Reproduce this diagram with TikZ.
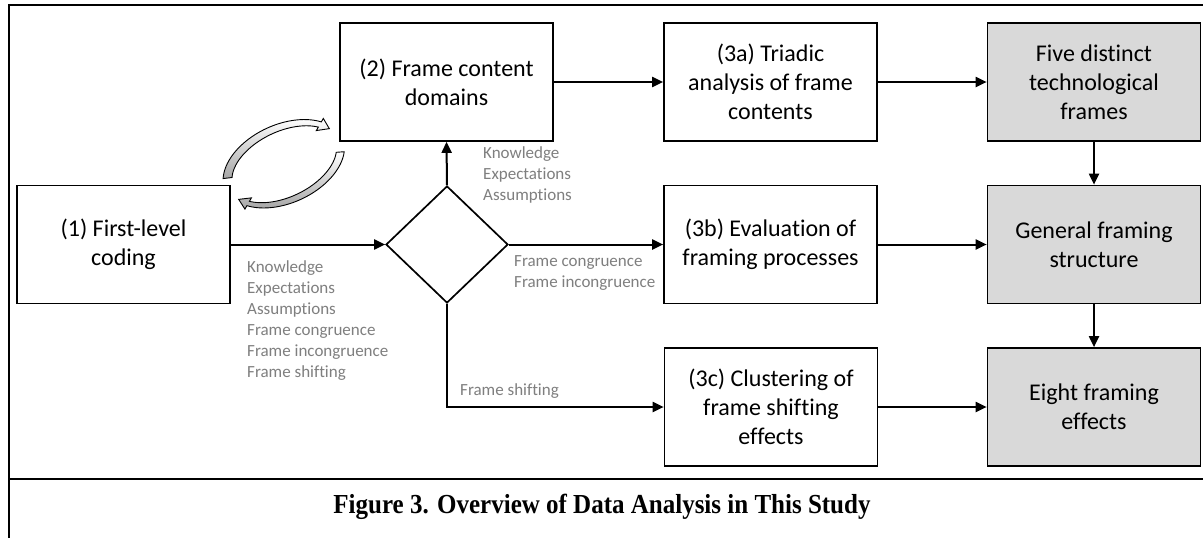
\documentclass[tikz,border=0pt]{standalone}
\usepackage{fontspec}
\setmainfont[Ligatures={NoCommon,NoRequired,NoContextual}]{Carlito}
\newfontfamily\capfont{Liberation Serif}
\usetikzlibrary{shapes.geometric,arrows.meta}
\definecolor{boxgray}{HTML}{D9D9D9}
\definecolor{labelgray}{HTML}{7F7F7F}
\begin{document}
\begin{tikzpicture}[x=1pt,y=-1pt,
  box/.style={draw, line width=1.7pt, minimum width=213pt, minimum height=118pt, inner sep=0pt, align=center, font=\fontsize{24}{29}\selectfont},
  res/.style={box, fill=boxgray},
  lbl/.style={anchor=west, inner sep=0pt, align=left, text=labelgray, font=\fontsize{17}{21}\selectfont},
  conn/.style={line width=2pt, -{Triangle[length=11pt,width=10pt]}},
  outerline/.style={line width=2.7pt},
  arcarrow/.style={draw=black, line width=0.9pt, top color=white, bottom color=gray!70},
  declare function={
    ex(\t,\d)=284+(60+\d)*cos(\t)*cos(25)-(36+\d)*sin(\t)*sin(25);
    ey(\t,\d)=164-((60+\d)*cos(\t)*sin(25)+(36+\d)*sin(\t)*cos(25));
  }
]
\useasboundingbox (0,0) rectangle (1203,538);
\fill[white] (0,0) rectangle (1203,538);

% outer frame
\draw[outerline] (1203,5) -- (9,5) -- (9,538);
\draw[outerline] (9,479) -- (1203,479);

% boxes
\node[box] (n1) at (123.5,244.5) {(1) First-level\\coding};
\node[box] (n2) at (446.5,82) {(2) Frame content\\domains};
\node[box] (n3a) at (770.5,82) {(3a) Triadic\\analysis of frame\\contents};
\node[box] (n3b) at (770.5,244.5) {(3b) Evaluation of\\framing processes};
\node[box] (n3c) at (771,407) {(3c) Clustering of\\frame shifting\\effects};
\node[res] (five) at (1094,82) {Five distinct\\technological\\frames};
\node[res] (gen) at (1094,244.5) {General framing\\structure};
\node[res] (eight) at (1094,407) {Eight framing\\effects};
\node[diamond, draw, line width=1.7pt, minimum width=122pt, minimum height=117pt, inner sep=0pt] (dia) at (447,244.5) {};

% connectors
\draw[conn] (n1.east) -- (dia.west);
\draw[conn] (dia.east) -- (n3b.west);
\draw[conn] (dia.north) -- (n2.south);
\draw[conn] (dia.south) |- (n3c.west);
\draw[conn] (n2.east) -- (n3a.west);
\draw[conn] (n3a.east) -- (five.west);
\draw[conn] (n3b.east) -- (gen.west);
\draw[conn] (n3c.east) -- (eight.west);
\draw[conn] (five.south) -- (gen.north);
\draw[conn] (gen.south) -- (eight.north);

% labels
\node[lbl] (l1) at (483,175) {Knowledge\\Expectations\\Assumptions};
\node[lbl] (l2) at (247,320.5) {Knowledge\\Expectations\\Assumptions\\Frame congruence\\Frame incongruence\\Frame shifting};
\node[lbl] (l3) at (514,273.5) {Frame congruence\\Frame incongruence};
\node[lbl] (l4) at (460,391) {Frame shifting};

% circular arrows
\path[arcarrow] plot[domain=162:35, samples=40] ({ex(\x, 4.5-1.5*(162-\x)/127)}, {ey(\x, 4.5-1.5*(162-\x)/127)})
  -- ({ex(35,7)},{ey(35,7)}) -- ({ex(21,0)},{ey(21,0)}) -- ({ex(35,-7)},{ey(35,-7)})
  -- plot[domain=35:162, samples=40] ({ex(\x, -(4.5-1.5*(162-\x)/127))}, {ey(\x, -(4.5-1.5*(162-\x)/127))}) -- cycle;
\path[arcarrow] plot[domain=-21:-145, samples=40] ({ex(\x, 4-1.5*(-21-\x)/124)}, {ey(\x, 4-1.5*(-21-\x)/124)})
  -- ({ex(-145,6.5)},{ey(-145,6.5)}) -- ({ex(-159,0)},{ey(-159,0)}) -- ({ex(-145,-6.5)},{ey(-145,-6.5)})
  -- plot[domain=-145:-21, samples=40] ({ex(\x, -(4-1.5*(-21-\x)/124))}, {ey(\x, -(4-1.5*(-21-\x)/124))}) -- cycle;

% caption
\node[font={\capfont\bfseries\fontsize{25}{30}\selectfont}, inner sep=0pt] (cap) at (602,507) {\scalebox{1}[1.1]{Figure 3. Overview of Data Analysis in This Study}};
\end{tikzpicture}
\end{document}
